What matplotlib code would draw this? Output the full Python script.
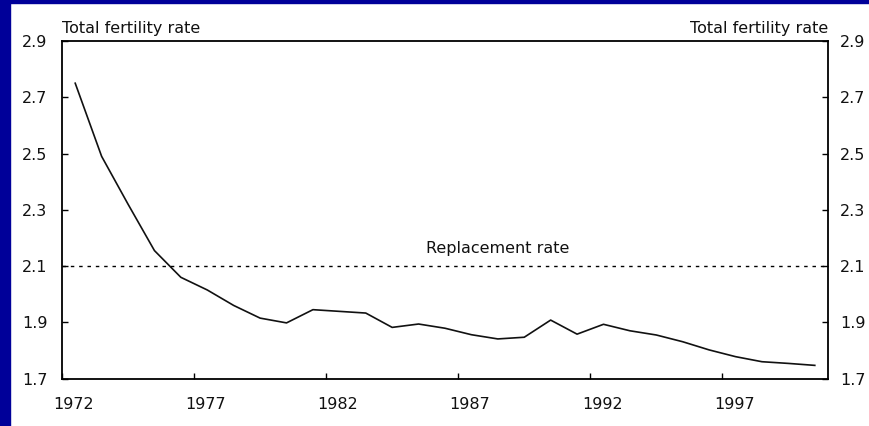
import numpy as np
import matplotlib
matplotlib.use("Agg")
import matplotlib.pyplot as plt
from matplotlib.patches import Rectangle

# total fertility rate, one value per year
years = list(range(1972, 2001))
tfr = [2.75, 2.49, 2.32, 2.155, 2.06, 2.015, 1.96, 1.915, 1.898, 1.945,
       1.939, 1.933, 1.882, 1.894, 1.879, 1.856, 1.841, 1.847, 1.908, 1.858,
       1.893, 1.870, 1.855, 1.831, 1.802, 1.778, 1.760, 1.754, 1.747]
replacement = 2.1
year_ticks = [1972, 1977, 1982, 1987, 1992, 1997]
y_ticks = [1.7, 1.9, 2.1, 2.3, 2.5, 2.7, 2.9]

plt.rcParams["font.family"] = ["DejaVu Sans"]
FS = 11.5

fig = plt.figure(figsize=(8.7, 4.26), dpi=100)
fig.patch.set_facecolor("white")

# blue slide border on the left and the top
fig.patches.append(Rectangle((0, 0), 10 / 870, 1, transform=fig.transFigure,
                             color="#000099", zorder=0))
fig.patches.append(Rectangle((0, 1 - 2.5 / 426), 1, 2.5 / 426, transform=fig.transFigure,
                             color="#000099", zorder=0))

ax = fig.add_axes([62 / 870, (426 - 378.6) / 426, 766 / 870, 337.6 / 426])

# Excel-style category axis: points sit in the middle of each year band
xs = np.array(years) + 0.5
ax.plot(xs, tfr, color="#111111", linewidth=1.2)
ax.axhline(replacement, color="black", linewidth=1.0, linestyle=(0, (2.5, 3.5)))
ax.text(1988.5, 2.147, "Replacement rate", ha="center", va="baseline",
        fontsize=FS, color="#111111")

ax.set_xlim(1972, 2001)
ax.set_ylim(1.7, 2.9)

ax.set_xticks(year_ticks)
ax.set_xticklabels([])
ax.set_xticks([y + 0.45 for y in year_ticks], minor=True)
ax.set_xticklabels([str(y) for y in year_ticks], minor=True, fontsize=FS)
ax.tick_params(axis="x", which="major", direction="in", length=4, width=1, top=False)
ax.tick_params(axis="x", which="minor", length=0, pad=13.5, labelcolor="#111111")

ax.set_yticks(y_ticks)
ax.set_yticklabels([f"{v:.1f}" for v in y_ticks], fontsize=FS)
ax.tick_params(axis="y", direction="in", length=4, width=1, left=True, right=False,
               labelleft=True, labelright=False, pad=10.5, labelcolor="#111111")

# right-hand labels sit a bit closer to the axis
ax2 = ax.twinx()
ax2.set_ylim(1.7, 2.9)
ax2.set_yticks(y_ticks)
ax2.set_yticklabels([f"{v:.1f}" for v in y_ticks], fontsize=FS)
ax2.tick_params(axis="y", direction="in", length=4, width=1, pad=8.5, labelcolor="#111111")
for s in ax2.spines.values():
    s.set_visible(False)

for s in ax.spines.values():
    s.set_color("black")
    s.set_linewidth(1.3)

ax.annotate("Total fertility rate", xy=(0, 1), xycoords="axes fraction",
            xytext=(0, 5.5), textcoords="offset points",
            ha="left", va="baseline", fontsize=FS, color="#111111")
ax.annotate("Total fertility rate", xy=(1, 1), xycoords="axes fraction",
            xytext=(0, 5.5), textcoords="offset points",
            ha="right", va="baseline", fontsize=FS, color="#111111")

fig.savefig("out.png", dpi=100, facecolor=fig.get_facecolor())
